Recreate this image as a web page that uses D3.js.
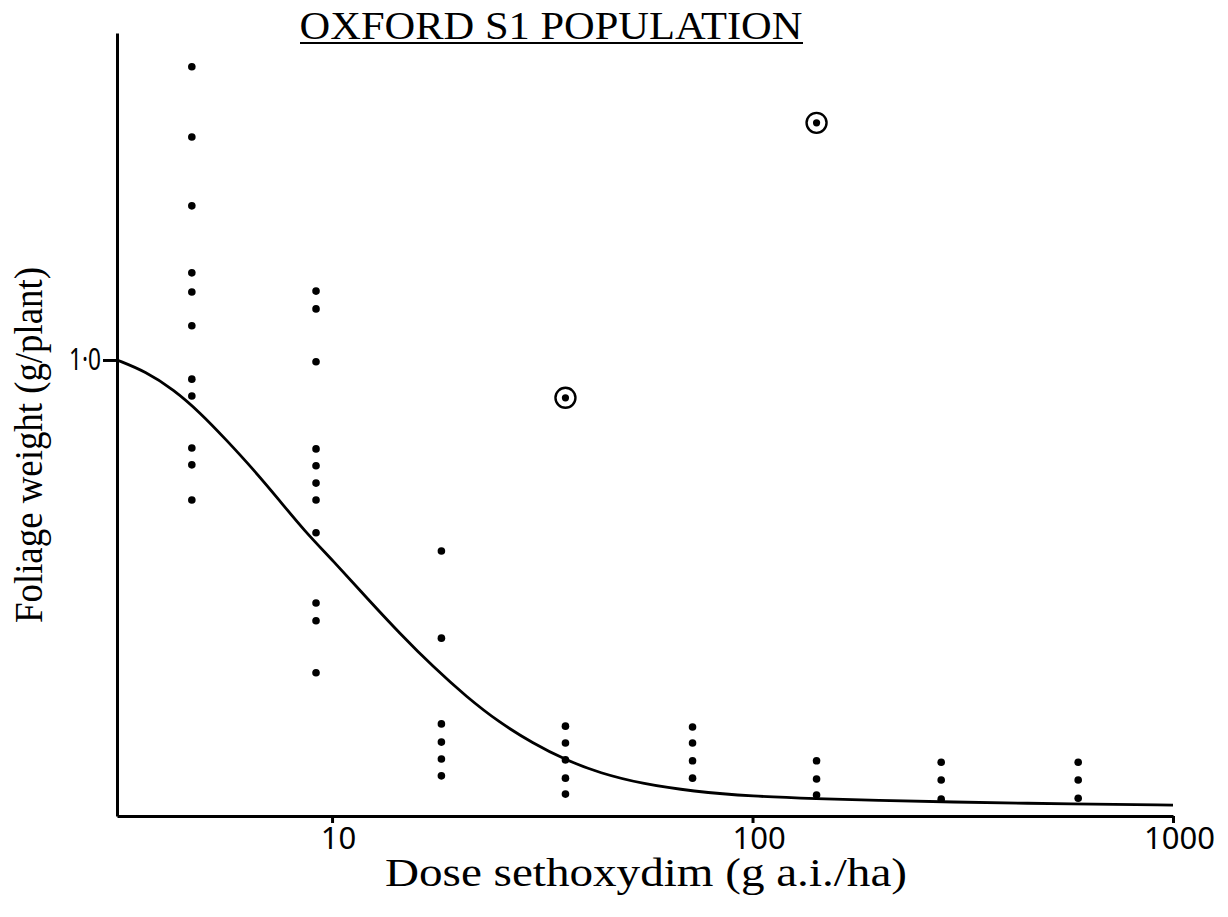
<!DOCTYPE html>
<html>
<head>
<meta charset="utf-8">
<script src="https://cdn.jsdelivr.net/npm/d3@7"></script>
<style>
  html, body { margin: 0; padding: 0; background: #fff; }
  svg { display: block; }
</style>
</head>
<body>
<svg id="chart" width="1228" height="917"></svg>
<script>
// Sethoxydim dose (g a.i./ha) at which each column of plants was treated
const doses = [4.64, 9.16, 18.2, 35.9, 72, 142, 281, 595];

// Foliage weight (g/plant) of individual plants, one list per dose
const weightsByDose = [
  [1.643, 1.489, 1.338, 1.191, 1.149, 1.075, 0.958, 0.921, 0.807, 0.770, 0.693],
  [1.151, 1.112, 0.996, 0.805, 0.768, 0.730, 0.693, 0.621, 0.467, 0.428, 0.314],
  [0.581, 0.390, 0.202, 0.162, 0.125, 0.088],
  [0.197, 0.160, 0.123, 0.083, 0.048],
  [0.195, 0.160, 0.121, 0.083],
  [0.121, 0.081, 0.046],
  [0.118, 0.079, 0.037],
  [0.118, 0.079, 0.039]
];

// Plants marked as outliers (circled)
const outlierDoses = [35.9, 142];
const outlierWeights = [0.917, 1.520];

// Fitted dose-response curve
const fitDose = [3.08, 3.6, 4.2, 4.85, 5.6, 6.5, 7.5, 8.6, 10.05, 12.1, 14.5, 17.4, 20.9, 25, 30, 35.9, 43.3, 55, 72, 100, 142, 200, 281, 595, 1000];
const fitWeight = [1.0, 0.975, 0.935, 0.885, 0.825, 0.760, 0.692, 0.625, 0.560, 0.478, 0.400, 0.327, 0.261, 0.205, 0.160, 0.123, 0.094, 0.070, 0.054, 0.043, 0.038, 0.034, 0.031, 0.026, 0.024];

// Axis ticks
const xTicks = [10, 100, 1000];
const xTickLabels = ["10", "100", "1000"];
const yTicks = [1.0];
const yTickLabels = ["1·0"];

const svg = d3.select("#chart");
const serif = "'Liberation Serif', 'Times New Roman', serif";
const sans = "'Noto Sans', 'DejaVu Sans', sans-serif";

const x = d3.scaleLog().domain([3.08, 1000]).range([117, 1173]);
const y = d3.scaleLinear().domain([0, 1.717]).range([816, 33]);

// Axes
const xAxis = svg.append("g")
  .attr("transform", `translate(0,${y(0)})`)
  .call(d3.axisBottom(x)
    .tickValues(xTicks)
    .tickFormat((d, i) => xTickLabels[i])
    .tickSizeInner(7)
    .tickSizeOuter(0)
    .tickPadding(4));
xAxis.attr("font-size", null).attr("font-family", null);
xAxis.select(".domain").attr("stroke", "#000").attr("stroke-width", 3);
xAxis.selectAll(".tick line").attr("stroke", "#000").attr("stroke-width", 3);
xAxis.selectAll(".tick text")
  .style("font-family", sans)
  .style("font-size", "31px")
  .attr("dx", 6)
  .attr("fill", "#000");

const yAxis = svg.append("g")
  .attr("transform", `translate(${x(3.08)},0)`)
  .call(d3.axisLeft(y)
    .tickValues(yTicks)
    .tickFormat((d, i) => yTickLabels[i])
    .tickSizeInner(14)
    .tickSizeOuter(0)
    .tickPadding(2));
yAxis.attr("font-size", null).attr("font-family", null);
yAxis.select(".domain").attr("stroke", "#000").attr("stroke-width", 3);
yAxis.selectAll(".tick line").attr("stroke", "#000").attr("stroke-width", 3);
yAxis.selectAll(".tick text")
  .style("font-family", sans)
  .style("font-size", "31px")
  .attr("textLength", 32)
  .attr("lengthAdjust", "spacingAndGlyphs")
  .attr("fill", "#000");

// Fitted curve
const line = d3.line()
  .x((d, i) => x(fitDose[i]))
  .y((d, i) => y(fitWeight[i]))
  .curve(d3.curveBasis);
svg.append("path")
  .datum(fitDose)
  .attr("d", line)
  .attr("fill", "none")
  .attr("stroke", "#000")
  .attr("stroke-width", 2.8);

// Individual plants
const points = [];
doses.forEach((dose, i) => weightsByDose[i].forEach(w => points.push({ dose, w })));
svg.append("g").selectAll("circle")
  .data(points)
  .join("circle")
  .attr("cx", d => x(d.dose))
  .attr("cy", d => y(d.w))
  .attr("r", 3.8)
  .attr("fill", "#000");

// Circled outliers
const outliers = outlierDoses.map((d, i) => ({ dose: d, w: outlierWeights[i] }));
const og = svg.append("g").selectAll("g").data(outliers).join("g")
  .attr("transform", d => `translate(${x(d.dose)},${y(d.w)})`);
og.append("circle").attr("r", 10).attr("fill", "none").attr("stroke", "#000").attr("stroke-width", 2.4);
og.append("circle").attr("r", 3.6).attr("fill", "#000");

// Title, underlined
svg.append("text")
  .attr("x", 551)
  .attr("y", 39)
  .attr("text-anchor", "middle")
  .attr("font-family", serif)
  .attr("font-size", 41)
  .attr("textLength", 503)
  .attr("lengthAdjust", "spacingAndGlyphs")
  .text("OXFORD S1 POPULATION");
svg.append("line")
  .attr("x1", 300).attr("x2", 803)
  .attr("y1", 43).attr("y2", 43)
  .attr("stroke", "#000").attr("stroke-width", 2);

// Axis titles
svg.append("text")
  .attr("x", 646)
  .attr("y", 886)
  .attr("text-anchor", "middle")
  .attr("font-family", serif)
  .attr("font-size", 40)
  .attr("textLength", 522)
  .attr("lengthAdjust", "spacingAndGlyphs")
  .text("Dose sethoxydim (g a.i./ha)");

svg.append("text")
  .attr("transform", "translate(42,445) rotate(-90)")
  .attr("text-anchor", "middle")
  .attr("font-family", serif)
  .attr("font-size", 41)
  .attr("textLength", 356)
  .attr("lengthAdjust", "spacingAndGlyphs")
  .text("Foliage weight (g/plant)");
</script>
</body>
</html>
